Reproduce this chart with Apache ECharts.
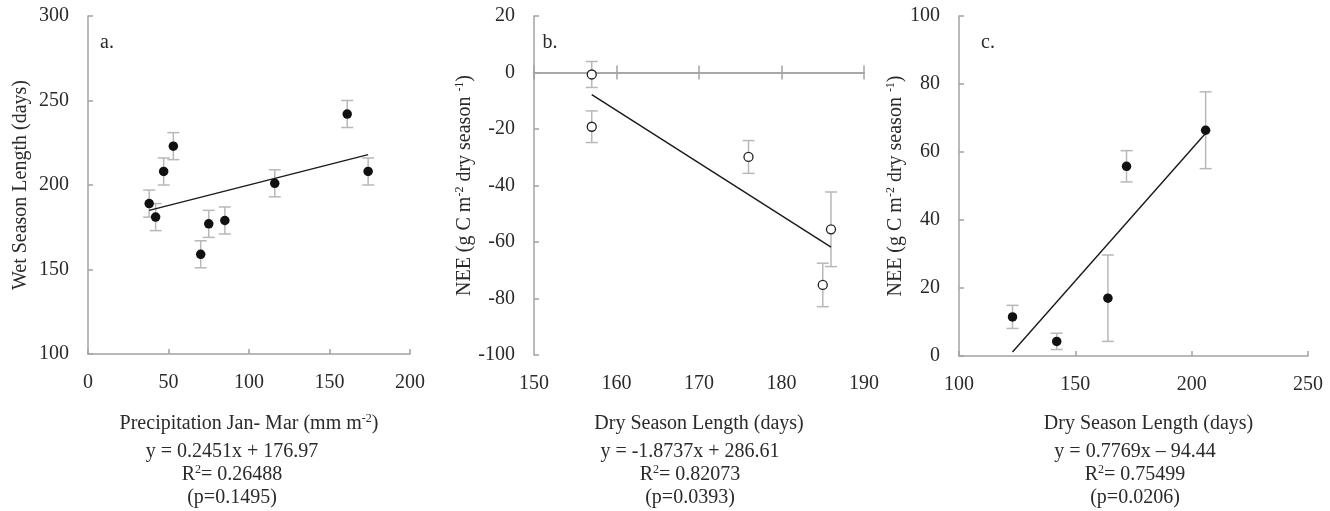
<!DOCTYPE html>
<html>
<head>
<meta charset="utf-8">
<script src="https://cdn.jsdelivr.net/npm/echarts@6/dist/echarts.min.js"></script>
<style>
html,body{margin:0;padding:0;background:#fff;}
#chart{width:1330px;height:511px;}
</style>
</head>
<body>
<div id="chart"></div>
<script>
// ---- Panel a: precipitation vs wet season length ----
const precipA = [38, 42, 47, 53, 70, 75, 85, 116, 161, 174];
const wetA    = [189, 181, 208, 223, 159, 177, 179, 201, 242, 208];
const errA    = [8, 8, 8, 8, 8, 8, 8, 8, 8, 8];
const fitAx   = [38, 174];
const fitAy   = [185, 218];

// ---- Panel b: dry season length vs NEE (open circles) ----
const dryB = [157, 157, 176, 185, 186];
const neeB = [-0.7, -19.2, -29.9, -75.2, -55.5];
const errB = [4.6, 5.6, 5.8, 7.7, 13.2];
const fitBx = [157, 186];
const fitBy = [-7.8, -61.8];

// ---- Panel c: dry season length vs NEE (filled) ----
const dryC = [123, 142, 164, 172, 206];
const neeC = [11.5, 4.3, 17, 55.8, 66.4];
const errC = [3.4, 2.4, 12.7, 4.6, 11.3];
const fitCx = [123, 206];
const fitCy = [1.2, 65.5];

// ---- axis tick settings ----
const ticksA = {xmin: 0, xmax: 200, xint: 50, ymin: 100, ymax: 300, yint: 50};
const ticksB = {xmin: 150, xmax: 190, xint: 10, ymin: -100, ymax: 20, yint: 20};
const ticksC = {xmin: 100, xmax: 250, xint: 50, ymin: 0, ymax: 100, yint: 20};

// ---- texts ----
const eqA = ['{b|y = 0.2451x + 176.97}', '{b|R}{s|2}{b|= 0.26488}', '{b|(p=0.1495)}'];
const eqB = ['{b|y = -1.8737x + 286.61}', '{b|R}{s|2}{b|= 0.82073}', '{b|(p=0.0393)}'];
const eqC = ['{b|y = 0.7769x \u2013 94.44}', '{b|R}{s|2}{b|= 0.75499}', '{b|(p=0.0206)}'];

const FONT = "'Liberation Serif', 'Times New Roman', serif";
const TXT = '#2a2a2a';
const AX = '#a3a3a3';
const EB = '#b8b8b8';

const rich = {
  b: {fontFamily: FONT, fontSize: 20, color: TXT, lineHeight: 22},
  s: {fontFamily: FONT, fontSize: 12, color: TXT, lineHeight: 10, verticalAlign: 'top'}
};

function pairs(xs, ys) { return xs.map((x, i) => [x, ys[i]]); }
function errData(xs, ys, es) { return xs.map((x, i) => [x, ys[i] - es[i], ys[i] + es[i]]); }

function errRender(params, api) {
  const x = api.value(0), lo = api.value(1), hi = api.value(2);
  const t = api.coord([x, hi]);
  const b = api.coord([x, lo]);
  const w = 6;
  const style = {stroke: EB, lineWidth: 1.5};
  return {type: 'group', children: [
    {type: 'line', shape: {x1: t[0], y1: t[1], x2: b[0], y2: b[1]}, style},
    {type: 'line', shape: {x1: t[0] - w, y1: t[1], x2: t[0] + w, y2: t[1]}, style},
    {type: 'line', shape: {x1: b[0] - w, y1: b[1], x2: b[0] + w, y2: b[1]}, style}
  ]};
}

const axLine = {show: true, onZero: false, lineStyle: {color: AX, width: 1.5}};
const axLabel = {fontFamily: FONT, fontSize: 20, color: TXT};

function xAx(grid, t, extra) {
  return Object.assign({
    type: 'value', gridIndex: grid, position: 'bottom', min: t.xmin, max: t.xmax, interval: t.xint,
    axisLine: axLine,
    axisTick: {show: true, inside: true, length: 5, lineStyle: {color: AX, width: 1.5}},
    axisLabel: Object.assign({margin: 19}, axLabel),
    splitLine: {show: false},
    nameLocation: 'middle', nameGap: 59,
    nameTextStyle: {rich: rich}
  }, extra || {});
}
function yAx(grid, t, extra) {
  return Object.assign({
    type: 'value', gridIndex: grid, position: 'left', min: t.ymin, max: t.ymax, interval: t.yint,
    axisLine: axLine,
    axisTick: {show: true, inside: true, length: 5, lineStyle: {color: AX, width: 1.5}},
    axisLabel: Object.assign({margin: 19}, axLabel),
    splitLine: {show: false},
    nameLocation: 'middle', nameGap: 56,
    nameTextStyle: {rich: rich}
  }, extra || {});
}

const neeName = '{b|NEE (g C m}{s|-2}{b| dry season }{s|-1}{b|)}';

const option = {
  animation: false,
  backgroundColor: '#fff',
  grid: [
    {left: 88, top: 16, width: 322, height: 338},
    {left: 534, top: 16, width: 330, height: 339},
    {left: 959, top: 16, width: 349, height: 340}
  ],
  xAxis: [
    xAx(0, ticksA, {name: '{b|Precipitation Jan- Mar (mm m}{s|-2}{b|)}'}),
    xAx(1, ticksB, {name: '{b|Dry Season Length (days)}', axisLine: {show: false, onZero: false}, axisTick: {show: false}, nameGap: 58}),
    xAx(1, ticksB, {axisLine: {show: true, onZero: true, onZeroAxisIndex: 1, lineStyle: {color: AX, width: 1.5}},
                    axisTick: {show: true, inside: false, length: 7, lineStyle: {color: AX, width: 1.5}},
                    axisLabel: {show: false}}),
    xAx(1, ticksB, {axisLine: {show: true, onZero: true, onZeroAxisIndex: 1, lineStyle: {color: AX, width: 1.5}},
                    axisTick: {show: true, inside: true, length: 7, lineStyle: {color: AX, width: 1.5}},
                    axisLabel: {show: false}}),
    xAx(2, ticksC, {name: '{b|Dry Season Length (days)}', nameGap: 57,
                    nameTextStyle: {rich: rich, padding: [0, 0, 0, 30]}})
  ],
  yAxis: [
    yAx(0, ticksA, {name: '{b|Wet Season Length (days)}', nameGap: 56}),
    yAx(1, ticksB, {name: neeName, nameGap: 56}),
    yAx(2, ticksC, {name: neeName, nameGap: 49})
  ],
  series: [
    {type: 'custom', xAxisIndex: 0, yAxisIndex: 0, renderItem: errRender, data: errData(precipA, wetA, errA), encode: {x: 0, y: [1, 2]}, z: 1, silent: true},
    {type: 'line', xAxisIndex: 0, yAxisIndex: 0, data: pairs(fitAx, fitAy), showSymbol: false, lineStyle: {color: '#1a1a1a', width: 1.4}, z: 2, silent: true},
    {type: 'scatter', xAxisIndex: 0, yAxisIndex: 0, data: pairs(precipA, wetA), symbolSize: 9.5, itemStyle: {color: '#111', opacity: 1}, z: 3},

    {type: 'custom', xAxisIndex: 1, yAxisIndex: 1, renderItem: errRender, data: errData(dryB, neeB, errB), encode: {x: 0, y: [1, 2]}, z: 1, silent: true},
    {type: 'line', xAxisIndex: 1, yAxisIndex: 1, data: pairs(fitBx, fitBy), showSymbol: false, lineStyle: {color: '#1a1a1a', width: 1.4}, z: 2, silent: true},
    {type: 'scatter', xAxisIndex: 1, yAxisIndex: 1, data: pairs(dryB, neeB), symbolSize: 9, itemStyle: {color: '#fff', borderColor: '#222', borderWidth: 1.3, opacity: 1}, z: 3},

    {type: 'custom', xAxisIndex: 4, yAxisIndex: 2, renderItem: errRender, data: errData(dryC, neeC, errC), encode: {x: 0, y: [1, 2]}, z: 1, silent: true},
    {type: 'line', xAxisIndex: 4, yAxisIndex: 2, data: pairs(fitCx, fitCy), showSymbol: false, lineStyle: {color: '#1a1a1a', width: 1.4}, z: 2, silent: true},
    {type: 'scatter', xAxisIndex: 4, yAxisIndex: 2, data: pairs(dryC, neeC), symbolSize: 9.5, itemStyle: {color: '#111', opacity: 1}, z: 3}
  ],
  graphic: []
};

function addText(txt, x, y) {
  option.graphic.push({
    type: 'text', x: x, y: y, silent: true,
    style: {text: txt, rich: rich, fontFamily: FONT, fontSize: 20, fill: TXT,
            align: 'center', verticalAlign: 'middle', textAlign: 'center', textVerticalAlign: 'middle'}
  });
}
addText('{b|a.}', 107, 43);
addText('{b|b.}', 550, 43);
addText('{b|c.}', 988, 43);
const eqY = [452, 475, 498];
eqA.forEach((t, i) => addText(t, 232, eqY[i]));
eqB.forEach((t, i) => addText(t, 690, eqY[i]));
eqC.forEach((t, i) => addText(t, 1135, eqY[i]));

const chart = echarts.init(document.getElementById('chart'), null, {renderer: 'canvas'});
chart.setOption(option);
</script>
</body>
</html>
